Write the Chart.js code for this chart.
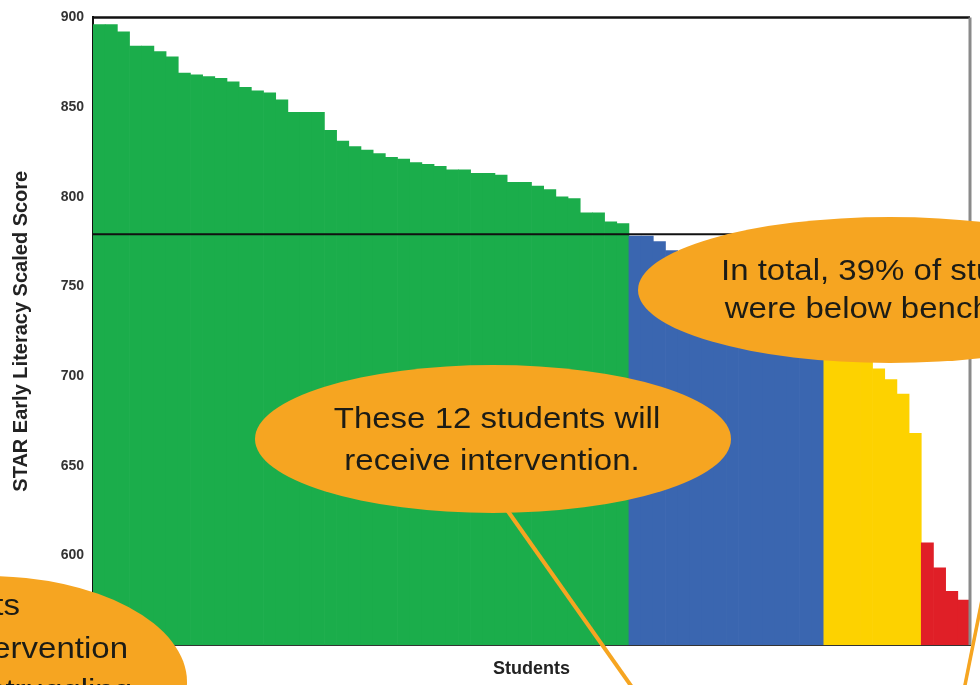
<!DOCTYPE html>
<html>
<head>
<meta charset="utf-8">
<script src="https://cdn.jsdelivr.net/npm/chart.js@4.4.0/dist/chart.umd.min.js"></script>
<style>
  html, body { margin: 0; padding: 0; background: #fff; }
</style>
</head>
<body>
<canvas id="scores" width="980" height="685"></canvas>
<script>
// STAR Early Literacy scaled scores, one bar per student, highest first
const atBenchmark = [896, 896, 892, 884, 884, 881, 878, 869, 868, 867, 866, 864, 861, 859, 858, 854,
                     847, 847, 847, 837, 831, 828, 826, 824, 822, 821, 819, 818, 817, 815, 815, 813,
                     813, 812, 808, 808, 806, 804, 800, 799, 791, 791, 786, 785];
const onWatch = [778, 778, 775, 770, 767, 764, 760, 757, 752, 748, 745, 741, 737, 733, 728, 724];
const intervention = [712, 711, 710, 709, 704, 698, 690, 668];
const urgent = [607, 593, 580, 575];
const benchmark = 779;
const yMin = 550, yMax = 900, yStep = 50;

const groupColors = ['#1bad4b', '#3a66b0', '#fdd200', '#e01f27'];
const groups = [atBenchmark, onWatch, intervention, urgent];

const scores = [];
const colors = [];
groups.forEach((g, gi) => g.forEach(v => { scores.push(v); colors.push(groupColors[gi]); }));
const students = scores.map((_, i) => String(i + 1));

const ORANGE = '#f6a521';
const INK = '#1c1c16';

// horizontal benchmark line plus top and right frame
const framePlugin = {
  id: 'frame',
  afterDatasetsDraw(chart) {
    const { ctx, chartArea: a, scales: { y } } = chart;
    ctx.save();
    const by = y.getPixelForValue(benchmark);
    ctx.strokeStyle = '#111';
    ctx.lineWidth = 2;
    ctx.beginPath();
    ctx.moveTo(a.left, by);
    ctx.lineTo(a.right, by);
    ctx.stroke();

    ctx.lineWidth = 2.5;
    ctx.beginPath();
    ctx.moveTo(a.left, a.top);
    ctx.lineTo(a.right, a.top);
    ctx.stroke();

    ctx.strokeStyle = '#8a8a8a';
    ctx.lineWidth = 3;
    ctx.beginPath();
    ctx.moveTo(a.right, a.top);
    ctx.lineTo(a.right, a.bottom);
    ctx.stroke();
    ctx.restore();
  }
};

function wideText(ctx, text, x, y, align) {
  ctx.save();
  ctx.translate(x, y);
  ctx.scale(1.1, 1);
  ctx.textAlign = align;
  ctx.fillText(text, 0, 0);
  ctx.restore();
}

function bubble(ctx, cx, cy, rx, ry) {
  ctx.fillStyle = ORANGE;
  ctx.beginPath();
  ctx.ellipse(cx, cy, rx, ry, 0, 0, Math.PI * 2);
  ctx.fill();
}

// orange speech bubbles on top of the chart
const calloutPlugin = {
  id: 'callouts',
  afterDraw(chart) {
    const { ctx } = chart;
    ctx.save();
    ctx.strokeStyle = ORANGE;
    ctx.lineWidth = 4;
    ctx.beginPath();
    ctx.moveTo(500, 500);
    ctx.lineTo(634, 690);
    ctx.stroke();
    ctx.lineWidth = 3.5;
    ctx.beginPath();
    ctx.moveTo(986, 580);
    ctx.lineTo(964, 690);
    ctx.stroke();

    bubble(ctx, 493, 439, 238, 74);
    bubble(ctx, 890, 290, 252, 73);
    bubble(ctx, -13, 682, 200, 106);

    ctx.fillStyle = INK;
    ctx.font = '30px "Liberation Sans", Arial, sans-serif';
    ctx.textBaseline = 'middle';
    wideText(ctx, 'These 12 students will', 497, 420, 'center');
    wideText(ctx, 'receive intervention.', 492, 462, 'center');
    wideText(ctx, 'In total, 39% of students', 898, 272, 'center');
    wideText(ctx, 'were below benchmark.', 899, 310, 'center');
    wideText(ctx, 'students', 20, 607, 'right');
    wideText(ctx, 'need intervention', 128, 650, 'right');
    wideText(ctx, 'are struggling', 132, 692, 'right');
    ctx.restore();
  }
};

new Chart(document.getElementById('scores'), {
  type: 'bar',
  data: {
    labels: students,
    datasets: [{
      data: scores,
      backgroundColor: colors,
      borderWidth: 0,
      barPercentage: 1,
      categoryPercentage: 1
    }]
  },
  options: {
    responsive: false,
    devicePixelRatio: 1,
    animation: false,
    layout: { padding: { top: 16, right: 10, left: 0, bottom: 0 } },
    plugins: {
      legend: { display: false },
      tooltip: { enabled: false }
    },
    scales: {
      x: {
        grid: { display: false },
        border: { color: '#333', width: 2 },
        ticks: { display: false },
        title: {
          display: true,
          text: 'Students',
          color: '#222',
          font: { family: '"Liberation Sans", Arial, sans-serif', size: 18, weight: 'bold' },
          padding: { top: 0, bottom: 5 }
        },
        afterFit: s => { s.height = 40; }
      },
      y: {
        min: yMin,
        max: yMax,
        grid: { display: false, drawTicks: false },
        border: { color: '#111', width: 2 },
        ticks: {
          stepSize: yStep,
          padding: 9,
          color: '#333',
          font: { family: '"Liberation Sans", Arial, sans-serif', size: 14, weight: 'bold' }
        },
        title: {
          display: true,
          text: 'STAR Early Literacy Scaled Score',
          color: '#222',
          font: { family: '"Liberation Sans", Arial, sans-serif', size: 20, weight: 'bold' },
          padding: { top: 9, bottom: 0 }
        },
        afterFit: s => { s.width = 93; }
      }
    }
  },
  plugins: [framePlugin, calloutPlugin]
});
</script>
</body>
</html>
